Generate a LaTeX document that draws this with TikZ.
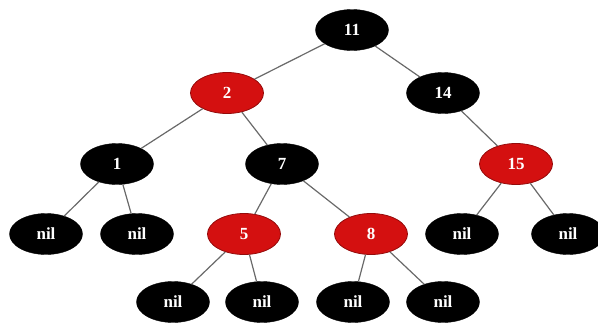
\documentclass[tikz,border=0pt]{standalone}
\usepackage{fontspec}
\setmainfont{Liberation Serif}
\usetikzlibrary{shapes.geometric}
\definecolor{rbred}{RGB}{212,16,16}
\definecolor{edgegray}{RGB}{105,105,105}
\tikzset{
  rbnode/.style={ellipse, minimum width=73pt, minimum height=41pt, inner sep=0pt,
    text=white, font=\fontsize{17}{17}\selectfont\bfseries},
  blk/.style={rbnode, fill=black, draw=black},
  redn/.style={rbnode, fill=rbred, draw=rbred!70!black, line width=0.8pt},
  edge/.style={draw=edgegray, line width=1.2pt}
}
\begin{document}
\begin{tikzpicture}[x=1pt,y=-1pt]
\useasboundingbox (0,0) rectangle (598,324);
\node[blk]  (n11) at (352,30) {11};
\node[redn] (n2)  at (227,93) {2};
\node[blk]  (n14) at (443,93) {14};
\node[blk]  (n1)  at (117,164) {1};
\node[blk]  (n7)  at (282,164) {7};
\node[redn] (n15) at (516,164) {15};
\node[blk]  (l1)  at (46,234) {nil};
\node[blk]  (l2)  at (137,234) {nil};
\node[redn] (n5)  at (244,234) {5};
\node[redn] (n8)  at (371,234) {8};
\node[blk]  (l3)  at (462,234) {nil};
\node[blk]  (l4)  at (568,234) {nil};
\node[blk]  (l5)  at (173,302) {nil};
\node[blk]  (l6)  at (262,302) {nil};
\node[blk]  (l7)  at (353,302) {nil};
\node[blk]  (l8)  at (443,302) {nil};
\draw[edge] (n11) -- (n2);
\draw[edge] (n11) -- (n14);
\draw[edge] (n2) -- (n1);
\draw[edge] (n2) -- (n7);
\draw[edge] (n14) -- (n15);
\draw[edge] (n1) -- (l1);
\draw[edge] (n1) -- (l2);
\draw[edge] (n7) -- (n5);
\draw[edge] (n7) -- (n8);
\draw[edge] (n15) -- (l3);
\draw[edge] (n15) -- (l4);
\draw[edge] (n5) -- (l5);
\draw[edge] (n5) -- (l6);
\draw[edge] (n8) -- (l7);
\draw[edge] (n8) -- (l8);
\end{tikzpicture}
\end{document}
